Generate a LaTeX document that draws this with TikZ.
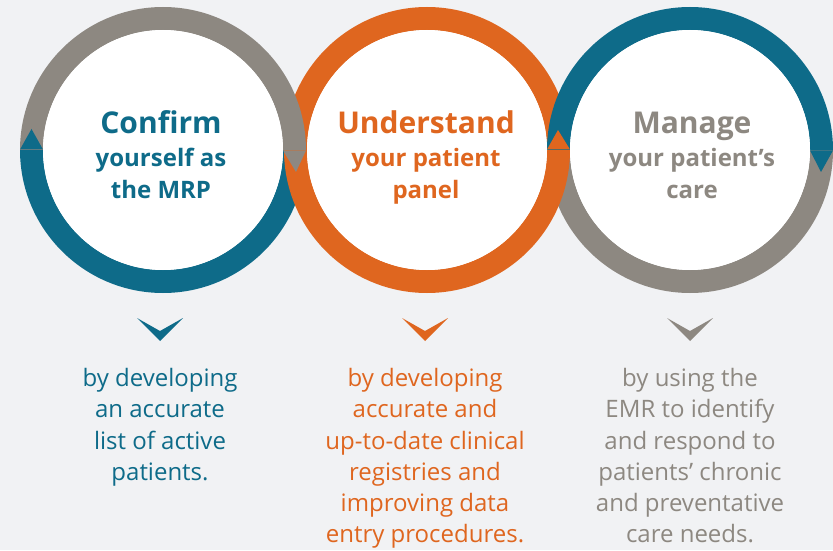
\documentclass[tikz,border=0pt]{standalone}
\usepackage{fontspec}
\setmainfont{Open Sans}
\definecolor{mteal}{HTML}{0E6B89}
\definecolor{morange}{HTML}{DF661F}
\definecolor{mgray}{HTML}{8D8881}
\definecolor{mbg}{HTML}{F1F2F4}
\tikzset{
  inner/.style={circle, fill=white, minimum size=240pt, inner sep=0pt},
  big/.style={anchor=base, inner sep=0pt, font=\fontsize{30}{30}\selectfont\bfseries},
  sub/.style={anchor=base, inner sep=0pt, font=\fontsize{24}{24}\selectfont\bfseries},
  para/.style={anchor=north, inner sep=0pt, align=center, font=\fontsize{24}{31.3}\selectfont}
}
\begin{document}
\begin{tikzpicture}[x=1pt,y=1pt]
\useasboundingbox (0,0) rectangle (833,550);
\fill[mbg] (0,0) rectangle (833,550);
% lower halves
\fill[mteal] (20,400) arc[start angle=180,end angle=360,radius=143] -- (283,400) arc[start angle=0,end angle=-180,radius=120] -- cycle;
\fill[mgray] (547,400) arc[start angle=180,end angle=360,radius=143] -- (810,400) arc[start angle=0,end angle=-180,radius=120] -- cycle;
% middle ring
\fill[morange, even odd rule] (427,400) circle[radius=143] (427,400) circle[radius=120];
% upper halves
\fill[mgray] (306,400) arc[start angle=0,end angle=180,radius=143] -- (43,400) arc[start angle=180,end angle=0,radius=120] -- cycle;
\fill[mteal] (833,400) arc[start angle=0,end angle=180,radius=143] -- (570,400) arc[start angle=180,end angle=0,radius=120] -- cycle;
% arrow tips
\fill[mteal] (20,400.5) -- (43,400.5) -- (31.5,421) -- cycle;
\fill[mgray] (283,399.5) -- (306,399.5) -- (296,378) -- cycle;
\fill[mteal] (810,399.5) -- (833,399.5) -- (821,378) -- cycle;
\fill[morange] (547,400.5) -- (570,400.5) -- (558,420) -- cycle;
% white discs
\node[inner] (w1) at (163,400) {};
\node[inner] (w2) at (427,400) {};
\node[inner] (w3) at (690,400) {};
% titles
\node[big, text=mteal] (t1a) at (161,416) {Confirm};
\node[sub, text=mteal] (t1b) at (161,383) {yourself as};
\node[sub, text=mteal] (t1c) at (161,352) {the MRP};
\node[big, text=morange] (t2a) at (426,416) {Understand};
\node[sub, text=morange] (t2b) at (426,383) {your patient};
\node[sub, text=morange] (t2c) at (426,352) {panel};
\node[big, text=mgray] (t3a) at (692,416) {Manage};
\node[sub, text=mgray] (t3b) at (692,383) {your patient’s};
\node[sub, text=mgray] (t3c) at (692,352) {care};
% chevrons
\fill[mteal] (137,232) -- (160,219) -- (183,232) -- (160,209) -- cycle;
\fill[morange] (402,232) -- (425,219) -- (448,232) -- (425,209) -- cycle;
\fill[mgray] (667,232) -- (690,219) -- (713,232) -- (690,209) -- cycle;
% descriptions
\node[para, text=mteal] (d1) at (160,182) {by developing\\an accurate\\list of active\\patients.};
\node[para, text=morange] (d2) at (425,182) {by developing\\accurate and\\up-to-date clinical\\registries and\\improving data\\entry procedures.};
\node[para, text=mgray] (d3) at (690,182) {by using the\\EMR to identify\\and respond to\\patients’ chronic\\and preventative\\care needs.};
\end{tikzpicture}
\end{document}
